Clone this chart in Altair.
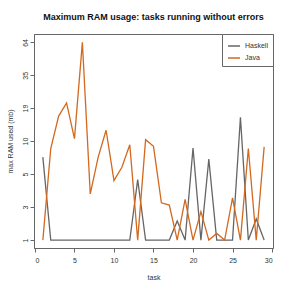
import altair as alt
import pandas as pd

tasks = list(range(1, 30))
haskell = [7.6, 1, 1, 1, 1, 1, 1, 1, 1, 1, 1, 1, 4.8, 1, 1, 1, 1, 1.8, 1, 9.1,
           1, 7.3, 1, 1, 1, 16.3, 1, 1.9, 1]
java = [1, 9.0, 16.7, 21.3, 10.9, 63.7, 3.5, 7.6, 12.8, 4.7, 6.2, 9.7, 1, 10.7,
        9.4, 2.85, 2.7, 1, 3.1, 1, 2.3, 1, 1.25, 1, 3.2, 1, 9.0, 1, 9.3]
languages = ["Haskell", "Java"]
colors = ["#666666", "#d2691e"]
y_ticks = [1, 2.57, 5.39, 10.4, 19.4, 35.3, 63.7]
x_ticks = [0, 5, 10, 15, 20, 25, 30]

df = pd.DataFrame({
    "task": tasks + tasks,
    "ram": haskell + java,
    "lang": ["Haskell"] * len(tasks) + ["Java"] * len(tasks),
})

FONT = "Liberation Sans"

chart = alt.Chart(df).mark_line(strokeWidth=1.3, clip=True).encode(
    x=alt.X("task:Q",
            scale=alt.Scale(domain=[-0.12, 30.12], nice=False, zero=False),
            axis=alt.Axis(values=x_ticks, title="task", grid=False,
                          tickSize=4, labelPadding=4, titlePadding=10,
                          format="d")),
    y=alt.Y("ram:Q",
            scale=alt.Scale(type="symlog", constant=1, domain=[0.74, 74],
                            nice=False, zero=False),
            axis=alt.Axis(values=y_ticks, format=".0f", title="max RAM used (mb)",
                          grid=False, tickSize=4, labelAngle=-90,
                          labelAlign="center", labelBaseline="bottom",
                          labelPadding=2, titlePadding=8)),
    color=alt.Color("lang:N",
                    scale=alt.Scale(domain=languages, range=colors),
                    legend=alt.Legend(title=None, orient="top-right", offset=0,
                                      symbolType="stroke", symbolSize=144,
                                      symbolStrokeWidth=1.5, labelFontSize=7,
                                      labelFont=FONT, padding=5,
                                      strokeColor="#666666", fillColor="white",
                                      rowPadding=2, labelColor="#333333")),
    order=alt.Order("task:Q"),
).properties(
    width=239,
    height=214,
    title=alt.Title("Maximum RAM usage: tasks running without errors",
                    fontSize=9, font=FONT, fontWeight="bold", offset=12,
                    color="#111111"),
    padding={"left": 26, "top": 26, "right": 10, "bottom": 40},
    autosize="none",
).configure_view(
    stroke="#666666", strokeWidth=1
).configure_axis(
    labelFont=FONT, titleFont=FONT, labelFontSize=7, titleFontSize=7,
    titleFontWeight="normal", domainColor="#666666", tickColor="#666666",
    labelColor="#333333", titleColor="#333333"
)

chart.save("out.html", embed_options={"renderer": "svg", "actions": False})
